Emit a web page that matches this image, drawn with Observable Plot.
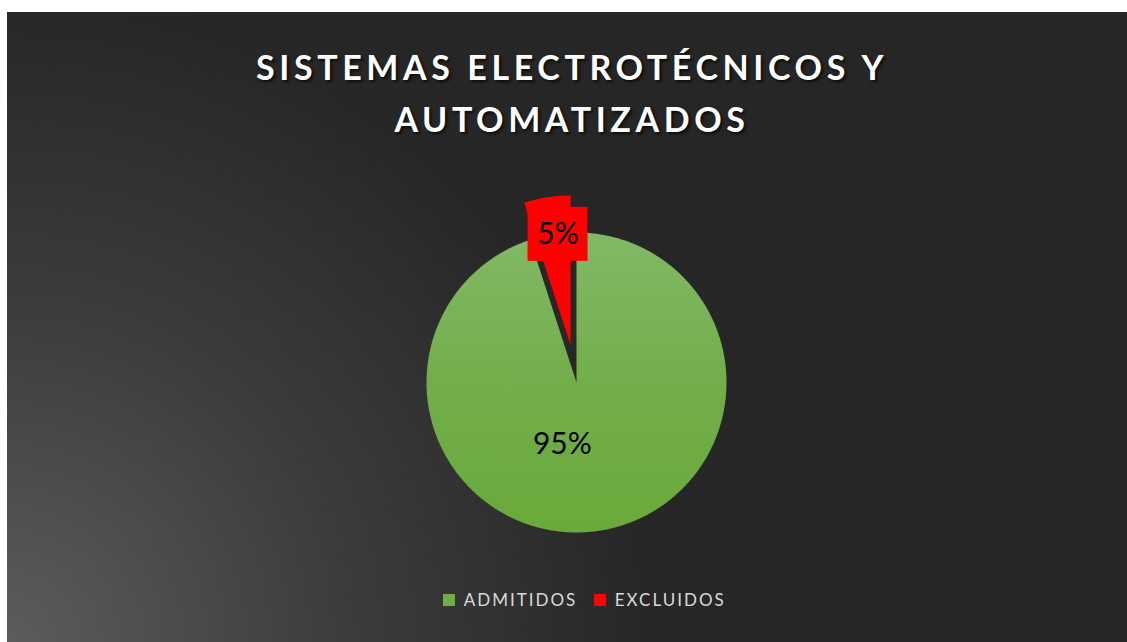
<!DOCTYPE html>
<html>
<head>
<meta charset="utf-8">
<script src="https://cdn.jsdelivr.net/npm/d3@7"></script>
<script src="https://cdn.jsdelivr.net/npm/@observablehq/plot@0.6"></script>
<style>
  html, body { margin: 0; padding: 0; background: #ffffff; }
  #page { position: relative; width: 1127px; height: 642px; overflow: hidden; }
  #bg { position: absolute; left: 7px; top: 12px; width: 1120px; height: 630px;
        background: radial-gradient(circle 750px at 0% 100%, #5c5c5c 0%, #3c3c3c 45%, #272727 85%, #262626 100%); }
  #chart { position: absolute; left: 0; top: 0; }
  .title { position: absolute; left: 12px; width: 1120px; text-align: center;
           font-family: Lato, "Open Sans", sans-serif; font-weight: 700; font-size: 34px;
           color: #ffffff; letter-spacing: 4.6px; white-space: nowrap;
           text-shadow: 2px 2px 3px rgba(0,0,0,0.7); line-height: 1; }
  #legend { position: absolute; left: 7px; width: 1120px; top: 583px; display: flex; justify-content: center; padding-left: 52px; box-sizing: border-box; }
</style>
</head>
<body>
<div id="page">
  <div id="bg"></div>
  <div id="chart"></div>
  <div class="title" id="t1" style="top:50px">SISTEMAS ELECTROTÉCNICOS Y</div>
  <div class="title" id="t2" style="top:102px">AUTOMATIZADOS</div>
  <div id="legend"></div>
</div>
<script>
const categories = ["ADMITIDOS", "EXCLUIDOS"];
const values = [95, 5];
const labels = ["95%", "5%"];
const colors = ["#70ad47", "#ff0000"];

// pie geometry (from data via d3.pie)
const explode = [0, 0.25];
const arcs = d3.pie().sort(null).value(d => d)(values);
const slices = [];
const labelRows = [];
arcs.forEach((a, i) => {
  const mid = (a.startAngle + a.endAngle) / 2;
  const ox = explode[i] * Math.sin(mid), oy = explode[i] * Math.cos(mid);
  const n = Math.max(4, Math.ceil((a.endAngle - a.startAngle) / 0.01));
  slices.push({cat: categories[i], x: ox, y: oy});
  for (let k = 0; k <= n; k++) {
    const t = a.startAngle + (a.endAngle - a.startAngle) * k / n;
    slices.push({cat: categories[i], x: ox + Math.sin(t), y: oy + Math.cos(t)});
  }
  slices.push({cat: categories[i], x: ox, y: oy});
  const lr = i === 0 ? 0.42 : 1.0;
  labelRows.push({cat: categories[i], label: labels[i], x: lr * Math.sin(mid), y: lr * Math.cos(mid), boxed: i === 1});
});

const inner = labelRows.filter(d => !d.boxed);
const boxed = labelRows.filter(d => d.boxed);
const boxes = boxed.map(d => ({...d, x1: d.x - 0.2, x2: d.x + 0.2, y1: d.y - 0.18, y2: d.y + 0.18}));
const font = "Lato, 'Open Sans', sans-serif";

const svg = Plot.plot({
  width: 1127,
  height: 642,
  margin: 0,
  style: {background: "transparent"},
  x: {domain: [-1, 1], range: [426, 726], axis: null},
  y: {domain: [-1, 1], range: [532, 232], axis: null},
  marks: [
    Plot.line(slices.filter(d => d.cat === categories[0]), {x: "x", y: "y", fill: "url(#greenGrad)", stroke: "none", curve: "linear"}),
    Plot.line(slices.filter(d => d.cat === categories[1]), {x: "x", y: "y", fill: colors[1], stroke: "none", curve: "linear"}),
    Plot.rect(boxes, {x1: "x1", x2: "x2", y1: "y1", y2: "y2", fill: colors[1], dx: 5}),
    Plot.text(boxed, {x: "x", y: "y", text: "label", fill: "#000000", fontSize: 30, fontFamily: font, dx: 5}),
    Plot.text(inner, {x: "x", y: "y", text: "label", fill: "#000000", fontSize: 30, fontFamily: font, dx: -24})
  ]
});

// gradient definition for the green slice
const ns = "http://www.w3.org/2000/svg";
const defs = document.createElementNS(ns, "defs");
const lg = document.createElementNS(ns, "linearGradient");
lg.setAttribute("id", "greenGrad");
lg.setAttribute("x1", "0"); lg.setAttribute("y1", "0"); lg.setAttribute("x2", "0"); lg.setAttribute("y2", "1");
[["0", "#81b966"], ["0.5", "#72ae4a"], ["1", "#69aa3a"]].forEach(([o, c]) => {
  const s = document.createElementNS(ns, "stop");
  s.setAttribute("offset", o); s.setAttribute("stop-color", c);
  lg.appendChild(s);
});
defs.appendChild(lg);
svg.insertBefore(defs, svg.firstChild);
document.getElementById("chart").appendChild(svg);

// legend
const legend = Plot.legend({
  color: {type: "ordinal", domain: categories, range: colors},
  swatchSize: 12,
  className: "lg",
  style: {fontFamily: font, fontSize: "17px", color: "#d9d9d9", background: "transparent", letterSpacing: "2px"}
});
document.getElementById("legend").appendChild(legend);
</script>
</body>
</html>
